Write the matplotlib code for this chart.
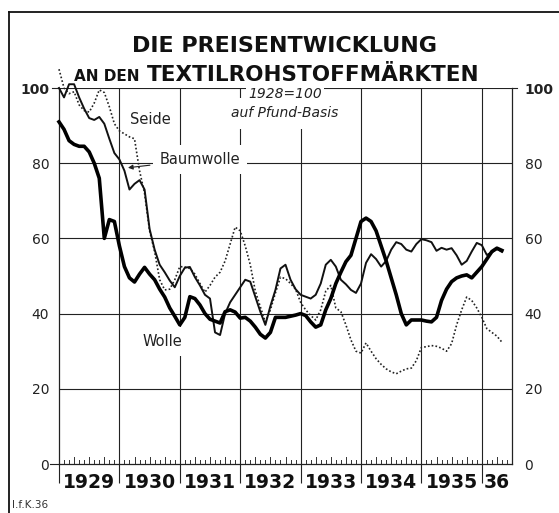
import numpy as np
import matplotlib.pyplot as plt
from matplotlib.transforms import blended_transform_factory, offset_copy
from matplotlib.lines import Line2D

# monthly index values, Jan 1929 .. May 1936 (1928 = 100)
wolle = [91, 89, 86, 85, 84.5, 84.5, 83, 80, 76, 60, 65, 64.5,
         58, 52.5, 49.5, 48.4, 50.5, 52.3, 50.5, 49, 46.5, 44.4, 41.5, 39.3,
         37, 39, 44.5, 44, 42.3, 40, 38.5, 38, 37.5, 40.5, 41, 40.4,
         38.8, 39, 38, 36.4, 34.5, 33.5, 35, 39, 39, 39, 39.3, 39.6,
         40, 39.5, 37.8, 36.4, 37, 41, 44, 48, 51, 53.8, 55.5, 60,
         64.5, 65.4, 64.5, 62, 58, 54, 49.5, 45, 40, 37, 38.3, 38.3,
         38.3, 38, 37.8, 39, 43.5, 46.5, 48.5, 49.5, 50, 50.3, 49.5, 51,
         52.5, 54.5, 56.5, 57.4, 56.8]
baumwolle = [100, 97.5, 101, 101, 97.5, 94.5, 92, 91.5, 92.3, 90.5, 86.5, 82.7,
             81, 78, 73, 74.5, 75.5, 73, 62.5, 57, 53, 51, 48.8, 47,
             50, 52.2, 52.4, 49.7, 47.5, 45, 44, 35, 34.3, 40, 43, 45,
             47, 49, 48.5, 44.5, 40.5, 37, 42, 46.3, 52, 53, 49, 46.5,
             45, 44.5, 44, 45, 48, 53, 54.3, 52.5, 49, 47.8, 46.3, 45.5,
             48, 53.5, 55.8, 54.5, 52.5, 54, 57, 59, 58.5, 57, 56.5, 58.5,
             59.8, 59.5, 59, 56.7, 57.5, 57, 57.4, 55.5, 53, 54, 56.5, 58.8,
             58.2, 55.6, 56.3, 57.2, 56.4]
seide = [105, 100, 98.5, 99, 95.5, 94, 93.6, 96, 99.5, 98.8, 95, 90.5,
         88.6, 87.8, 87, 86.5, 78, 72, 62, 56.5, 49, 46.3, 46.5, 49,
         52.5, 52.4, 52, 50.5, 48, 45.7, 47.5, 49.7, 51, 54, 58.5, 63,
         62, 58, 53, 46, 41.8, 37.8, 41, 45.5, 49.7, 49.3, 48, 46.5,
         43, 41, 39.5, 38.3, 41, 46, 47.5, 41.5, 40.5, 37, 33, 30,
         29.5, 32.2, 30, 28, 26.5, 25.3, 24.5, 24, 24.7, 25.3, 25.5, 27.5,
         31, 31.2, 31.5, 31.3, 30.8, 30, 32, 37, 41, 44.4, 43.5, 41.5,
         39, 36, 35, 34, 32.4]
years = ['1929', '1930', '1931', '1932', '1933', '1934', '1935', '36']
yticks = [0, 20, 40, 60, 80, 100]

months = np.arange(len(wolle))

W, H = 559, 513
fig = plt.figure(figsize=(W / 100, H / 100), dpi=100)
fig.patch.set_facecolor('white')

# outer frame (left and top edges)
fig.add_artist(Line2D([9 / W, 9 / W], [0, 1 - 12 / H], color='#111', lw=1.3))
fig.add_artist(Line2D([9 / W, 1], [1 - 12 / H, 1 - 12 / H], color='#111', lw=1.3))

ax = fig.add_axes([59 / W, 49 / H, 453 / W, 376 / H])
ax.set_xlim(0, 90)
ax.set_ylim(0, 100)

for s in ax.spines.values():
    s.set_linewidth(0.9)
    s.set_color('#222')
ax.spines['top'].set_visible(False)

# grid
for v in yticks[1:]:
    ax.axhline(v, color='#222', lw=0.8, zorder=1)
for i in range(1, len(years)):
    ax.axvline(12 * i, color='#222', lw=0.8, zorder=1)

# month ticks
for m in range(90):
    if m % 12 == 0:
        continue
    h = 7 if m % 3 == 0 else 4
    ax.axvline(m, 0, h / 376, color='#333', lw=0.7, zorder=1)

# year separators below the axis
ax.set_xticks([12 * i for i in range(len(years))])
ax.set_xticklabels([])
ax.tick_params(axis='x', direction='out', length=14, width=0.8, color='#222')

# year labels
trans = offset_copy(blended_transform_factory(ax.transData, ax.transAxes),
                    fig=fig, x=0, y=-9, units='dots')
for i, yr in enumerate(years):
    xc = 12 * i + 6 if i < len(years) - 1 else 87
    ax.text(xc, 0, yr, transform=trans, ha='center', va='top',
            fontsize=13.5, fontweight='bold', color='#111')

# y labels both sides
ax.set_yticks(yticks)
ax.tick_params(axis='y', length=0, pad=7, labelsize=10, labelcolor='#222')
ax.set_yticklabels([str(v) for v in yticks])
ax.get_yticklabels()[-1].set_fontweight('bold')
axr = ax.twinx()
axr.set_ylim(0, 100)
axr.set_yticks(yticks)
axr.set_yticklabels([str(v) for v in yticks])
axr.tick_params(axis='y', length=0, pad=9, labelsize=10, labelcolor='#222')
axr.get_yticklabels()[-1].set_fontweight('bold')
for s in axr.spines.values():
    s.set_visible(False)
ax.axhline(100, -0.015, 0, color='#222', lw=0.8, clip_on=False)
ax.axhline(0, -0.02, 0, color='#222', lw=0.8, clip_on=False)
ax.axhline(100, 1, 1.012, color='#222', lw=0.8, clip_on=False)

# series
ax.plot(months, seide, color='#222', lw=1.2, ls=(0, (1, 1.3)), zorder=3, clip_on=False)
ax.plot(months, baumwolle, color='#111', lw=1.4, zorder=4, clip_on=False)
ax.plot(months, wolle, color='#000', lw=2.6, zorder=5, clip_on=False)

# labels
wbox = dict(facecolor='white', edgecolor='none', pad=2)
ax.text(18.1, 91.5, 'Seide', ha='center', va='center', fontsize=10.5,
        color='#222', zorder=6, bbox=wbox)
ax.text(20.5, 32.7, 'Wolle', ha='center', va='center', fontsize=10.5,
        color='#222', zorder=6, bbox=dict(facecolor='white', edgecolor='none', pad=5))
ax.annotate('Baumwolle', xy=(13.7, 78.8), xytext=(20.0, 81.0),
            ha='left', va='center', fontsize=10.5, color='#222', zorder=6,
            bbox=dict(facecolor='white', edgecolor='none', pad=5),
            arrowprops=dict(arrowstyle='-|>', color='#222', lw=0.8,
                            mutation_scale=7, shrinkA=2, shrinkB=0))
ax.text(44.9, 98.3, '1928=100', ha='center', va='center', fontsize=10,
        style='italic', color='#222', zorder=6,
        bbox=dict(facecolor='white', edgecolor='none', pad=1.5))
ax.text(44.9, 93.3, 'auf Pfund-Basis', ha='center', va='center', fontsize=10,
        style='italic', color='#222', zorder=6,
        bbox=dict(facecolor='white', edgecolor='none', pad=6))

# title
fig.text(285 / W, 1 - 52 / H, 'DIE PREISENTWICKLUNG', ha='center', va='baseline',
         fontsize=16, fontweight='bold', color='#111')
fig.text(140 / W, 1 - 81 / H, 'AN DEN', ha='right', va='baseline',
         fontsize=11, fontweight='bold', color='#111')
fig.text(147 / W, 1 - 81 / H, 'TEXTILROHSTOFFMÄRKTEN', ha='left', va='baseline',
         fontsize=15.5, fontweight='bold', color='#111')

fig.text(12 / W, 1 - 505 / H, 'I.f.K.36', ha='left', va='center',
         fontsize=7.5, color='#333')

fig.savefig('out.png', dpi=100, facecolor='white')
